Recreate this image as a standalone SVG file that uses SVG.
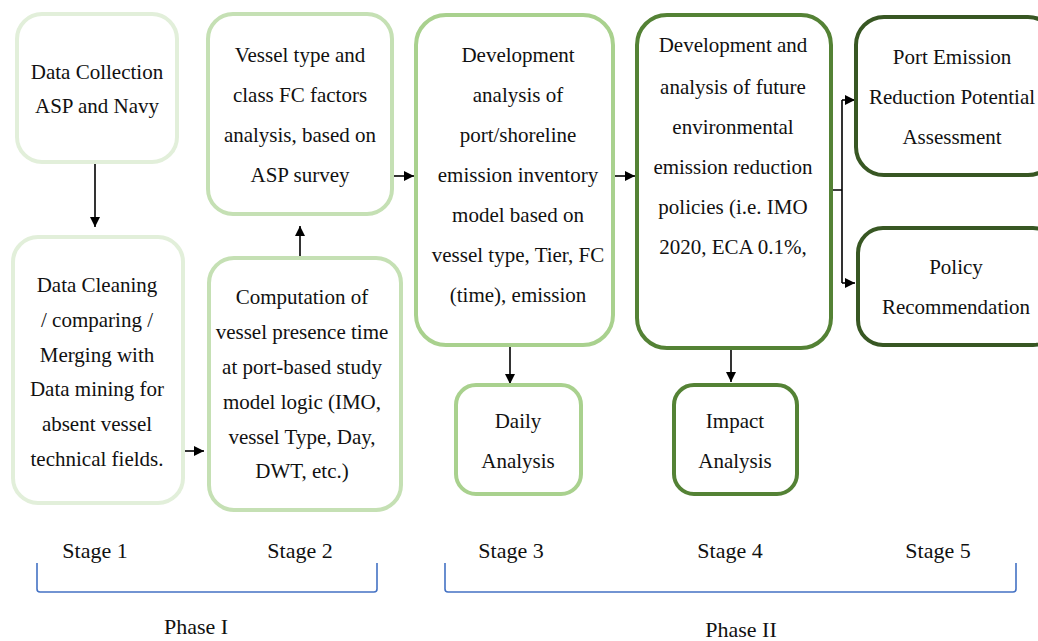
<svg xmlns="http://www.w3.org/2000/svg" width="1038" height="641" viewBox="0 0 1038 641" font-family="Liberation Serif, DejaVu Serif, serif">
<style>
.box{fill:#fff;stroke-width:4}
.s1{stroke:#e2efda}
.s2{stroke:#c5e0b4}
.s3{stroke:#a9d18e}
.s4{stroke:#548235}
.s5{stroke:#385723}
text{font-family:'Liberation Serif','DejaVu Serif',serif;font-size:21px;fill:#111;text-anchor:middle}
.stage{font-size:22px}
.con{stroke:#000;stroke-width:1.6;fill:none}
.br{stroke:#4472c4;stroke-width:1.6;fill:none}
</style>
<defs>
<marker id="ah" markerUnits="userSpaceOnUse" markerWidth="10" markerHeight="10" refX="10" refY="5" orient="auto">
<path d="M0,0 L10,5 L0,10 z" fill="#000"/>
</marker>
</defs>
<rect width="1038" height="641" fill="#fff"/>

<g id="connectors">
<line class="con" x1="95" y1="164" x2="95" y2="227" marker-end="url(#ah)"/>
<line class="con" x1="185" y1="451" x2="204" y2="451" marker-end="url(#ah)"/>
<line class="con" x1="300" y1="258" x2="300" y2="226" marker-end="url(#ah)"/>
<line class="con" x1="394" y1="176" x2="414" y2="176" marker-end="url(#ah)"/>
<line class="con" x1="614" y1="176" x2="635" y2="176" marker-end="url(#ah)"/>
<path class="con" d="M833,190 H842 M842,100 V283"/>
<line class="con" x1="842" y1="100" x2="855" y2="100" marker-end="url(#ah)"/>
<line class="con" x1="842" y1="283" x2="855" y2="283" marker-end="url(#ah)"/>
<line class="con" x1="510" y1="347" x2="510" y2="384" marker-end="url(#ah)"/>
<line class="con" x1="731" y1="349" x2="731" y2="382" marker-end="url(#ah)"/>
</g>

<g id="n1">
<rect class="box s1" x="17" y="14" width="160" height="148" rx="25"/>
<text x="97" y="79">Data Collection</text>
<text x="97" y="113">ASP and Navy</text>
</g>

<g id="n2">
<rect class="box s1" x="13" y="237" width="170" height="266" rx="25"/>
<text x="97" y="292">Data Cleaning</text>
<text x="97" y="327">/ comparing /</text>
<text x="97" y="362">Merging with</text>
<text x="97" y="396">Data mining for</text>
<text x="97" y="431">absent vessel</text>
<text x="97" y="466">technical fields.</text>
</g>

<g id="n3">
<rect class="box s2" x="208" y="14" width="184" height="200" rx="25"/>
<text x="300" y="62">Vessel type and</text>
<text x="300" y="102">class FC factors</text>
<text x="300" y="142">analysis, based on</text>
<text x="300" y="182">ASP survey</text>
</g>

<g id="n4">
<rect class="box s2" x="209" y="258" width="192" height="252" rx="25"/>
<text x="302" y="304">Computation of</text>
<text x="302" y="339">vessel presence time</text>
<text x="302" y="374">at port-based study</text>
<text x="302" y="409">model logic (IMO,</text>
<text x="302" y="444">vessel Type, Day,</text>
<text x="302" y="478">DWT, etc.)</text>
</g>

<g id="n5">
<rect class="box s3" x="416" y="15" width="197" height="330" rx="30"/>
<text x="518" y="62">Development</text>
<text x="518" y="102">analysis of</text>
<text x="518" y="142">port/shoreline</text>
<text x="518" y="182">emission inventory</text>
<text x="518" y="222">model based on</text>
<text x="518" y="262">vessel type, Tier, FC</text>
<text x="518" y="302">(time), emission</text>
</g>

<g id="n6">
<rect class="box s4" x="637" y="15" width="194" height="333" rx="30"/>
<text x="733" y="52">Development and</text>
<text x="733" y="94">analysis of future</text>
<text x="733" y="134">environmental</text>
<text x="733" y="174">emission reduction</text>
<text x="733" y="214">policies (i.e. IMO</text>
<text x="733" y="254">2020, ECA 0.1%,</text>
</g>

<g id="n7">
<rect class="box s5" x="856" y="17" width="200" height="158" rx="28"/>
<text x="952" y="64">Port Emission</text>
<text x="952" y="104">Reduction Potential</text>
<text x="952" y="144">Assessment</text>
</g>

<g id="n8">
<rect class="box s5" x="858" y="228" width="200" height="117" rx="25"/>
<text x="956" y="274">Policy</text>
<text x="956" y="314">Recommendation</text>
</g>

<g id="n9">
<rect class="box s3" x="456" y="385" width="125" height="109" rx="20"/>
<text x="518" y="428">Daily</text>
<text x="518" y="468">Analysis</text>
</g>

<g id="n10">
<rect class="box s4" x="674" y="385" width="123" height="109" rx="20"/>
<text x="735" y="428">Impact</text>
<text x="735" y="468">Analysis</text>
</g>

<g id="stages">
<text class="stage" x="95" y="558">Stage 1</text>
<text class="stage" x="300" y="558">Stage 2</text>
<text class="stage" x="511" y="558">Stage 3</text>
<text class="stage" x="730" y="558">Stage 4</text>
<text class="stage" x="938" y="558">Stage 5</text>
</g>

<g id="phases">
<path class="br" d="M37,563 V589 Q37,592 40,592 H374 Q377,592 377,589 V563"/>
<path class="br" d="M445,563 V589 Q445,592 448,592 H1013 Q1016,592 1016,589 V563"/>
<text class="stage" x="196" y="634">Phase I</text>
<text class="stage" x="741" y="637">Phase II</text>
</g>
</svg>
